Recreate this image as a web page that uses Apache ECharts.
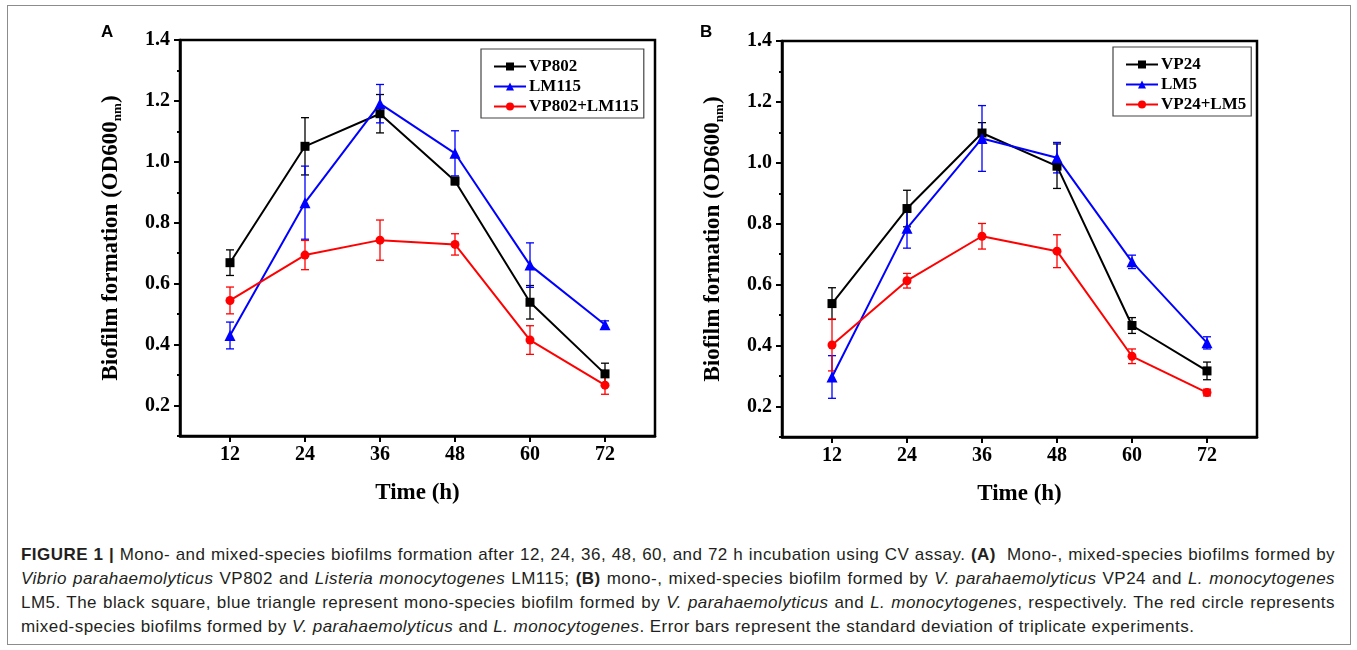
<!DOCTYPE html>
<html>
<head>
<meta charset="utf-8">
<script src="https://cdn.jsdelivr.net/npm/echarts@6/dist/echarts.min.js"></script>
<style>
  body { margin: 0; background: #fff; }
  #frame { position: absolute; left: 7px; top: 5px; width: 1344px; height: 640px; border: 1px solid #8c8c8c; box-sizing: border-box; }
  #chart { position: absolute; left: 0; top: 0; width: 1357px; height: 520px; }
  .cap { position: absolute; left: 21px; width: 1314px; height: 24px; line-height: 24px; font-family: "Liberation Sans", Arial, sans-serif; font-size: 17px; letter-spacing: 0.45px; color: #231f20; white-space: nowrap; text-align: justify; text-align-last: justify; }
  .cap.last { text-align-last: left; }
</style>
</head>
<body>
<div id="frame"></div>
<div id="chart"></div>
<div class="cap" style="top:543px"><b>FIGURE 1 |</b> Mono- and mixed-species biofilms formation after 12, 24, 36, 48, 60, and 72 h incubation using CV assay. <b>(A)</b>&nbsp; Mono-, mixed-species biofilms formed by</div>
<div class="cap" style="top:567px"><i>Vibrio parahaemolyticus</i> VP802 and <i>Listeria monocytogenes</i> LM115; <b>(B)</b> mono-, mixed-species biofilm formed by <i>V. parahaemolyticus</i> VP24 and <i>L. monocytogenes</i></div>
<div class="cap" style="top:591px">LM5. The black square, blue triangle represent mono-species biofilm formed by <i>V. parahaemolyticus</i> and <i>L. monocytogenes</i>, respectively. The red circle represents</div>
<div class="cap last" style="top:615px">mixed-species biofilms formed by <i>V. parahaemolyticus</i> and <i>L. monocytogenes</i>. Error bars represent the standard deviation of triplicate experiments.</div>
<script>
// sampling times (h)
var times = [12, 24, 36, 48, 60, 72];
var timeTicks = [12, 24, 36, 48, 60, 72];
var majorY = [0.2, 0.4, 0.6, 0.8, 1.0, 1.2, 1.4];
var minorY = [0.1, 0.3, 0.5, 0.7, 0.9, 1.1, 1.3];

// panel A
var vp802 = [0.669, 1.051, 1.158, 0.937, 0.539, 0.304];
var vp802Err = [0.042, 0.094, 0.063, 0.012, 0.055, 0.035];
var lm115 = [0.430, 0.866, 1.191, 1.028, 0.661, 0.465];
var lm115Err = [0.044, 0.120, 0.063, 0.074, 0.073, 0.013];
var mixA = [0.545, 0.694, 0.743, 0.729, 0.415, 0.267];
var mixAErr = [0.044, 0.048, 0.066, 0.035, 0.047, 0.030];

// panel B
var vp24 = [0.538, 0.850, 1.098, 0.989, 0.466, 0.317];
var vp24Err = [0.052, 0.060, 0.034, 0.073, 0.026, 0.029];
var lm5 = [0.297, 0.785, 1.080, 1.017, 0.675, 0.409];
var lm5Err = [0.070, 0.065, 0.108, 0.050, 0.022, 0.020];
var mixB = [0.402, 0.613, 0.759, 0.710, 0.365, 0.246];
var mixBErr = [0.085, 0.024, 0.042, 0.054, 0.024, 0.011];

var serif = '"Liberation Serif", "Times New Roman", serif';

function pairs(vals) {
  return times.map(function (t, i) { return [t, vals[i]]; });
}
function errData(vals, errs) {
  return times.map(function (t, i) { return [t, vals[i] - errs[i], vals[i] + errs[i]]; });
}

function errorBar(color) {
  return function (params, api) {
    var lo = api.coord([api.value(0), api.value(1)]);
    var hi = api.coord([api.value(0), api.value(2)]);
    var w = 4;
    var st = { stroke: color, lineWidth: 1.3 };
    return {
      type: 'group',
      children: [
        { type: 'line', shape: { x1: lo[0], y1: lo[1], x2: hi[0], y2: hi[1] }, style: st },
        { type: 'line', shape: { x1: lo[0] - w, y1: lo[1], x2: lo[0] + w, y2: lo[1] }, style: st },
        { type: 'line', shape: { x1: hi[0] - w, y1: hi[1], x2: hi[0] + w, y2: hi[1] }, style: st }
      ]
    };
  };
}

function lineSeries(name, vals, color, symbol, size, idx) {
  return {
    name: name, type: 'line', xAxisIndex: idx, yAxisIndex: idx * 2,
    data: pairs(vals), symbol: symbol, symbolSize: size,
    lineStyle: { color: color, width: 2 },
    itemStyle: { color: color },
    z: 3
  };
}
function errSeries(vals, errs, color, idx) {
  return {
    type: 'custom', xAxisIndex: idx, yAxisIndex: idx * 2,
    renderItem: errorBar(color), data: errData(vals, errs),
    encode: { x: 0, y: [1, 2] }, z: 2, silent: true
  };
}

function xAxisOpt(idx) {
  return {
    gridIndex: idx, type: 'value', min: 4, max: 80,
    axisLine: { lineStyle: { color: '#000', width: 2.5 } },
    axisTick: { customValues: timeTicks, length: 6, lineStyle: { color: '#000', width: 2 } },
    axisLabel: { customValues: timeTicks, margin: 9, color: '#000', fontSize: 20, fontWeight: 'bold', fontFamily: serif },
    splitLine: { show: false },
    name: 'Time (h)', nameLocation: 'middle', nameGap: 46,
    nameTextStyle: { color: '#000', fontSize: 23, fontWeight: 'bold', fontFamily: serif }
  };
}
function yAxisOpts(idx) {
  return [{
    gridIndex: idx, type: 'value', min: 0.1, max: 1.4,
    axisLine: { show: true, lineStyle: { color: '#000', width: 2.5 } },
    axisTick: { show: true, customValues: majorY, length: 6, lineStyle: { color: '#000', width: 2 } },
    axisLabel: {
      customValues: majorY, margin: 10, color: '#000', fontSize: 20, fontWeight: 'bold', fontFamily: serif,
      formatter: function (v) { return v.toFixed(1); }
    },
    splitLine: { show: false },
    name: '{a|Biofilm formation (OD600}{s|nm}{a|)}',
    nameLocation: 'middle', nameRotate: 90, nameGap: 56,
    nameTextStyle: {
      rich: {
        a: { color: '#000', fontSize: 23, fontWeight: 'bold', fontFamily: serif },
        s: { color: '#000', fontSize: 13, fontWeight: 'bold', fontFamily: serif, padding: [12, 0, 0, 0] }
      }
    }
  }, {
    gridIndex: idx, type: 'value', min: 0.1, max: 1.4, position: 'left',
    axisLine: { show: false },
    axisTick: { show: true, customValues: minorY, length: 3, lineStyle: { color: '#000', width: 2 } },
    axisLabel: { show: false },
    splitLine: { show: false }
  }];
}

function legendOpt(names, left, top) {
  return {
    data: names, orient: 'vertical', left: left, top: top,
    padding: [9, 5, 3, 12], itemGap: 3, itemWidth: 32, itemHeight: 10,
    borderColor: '#444', borderWidth: 1.2, backgroundColor: '#fff',
    textStyle: { color: '#000', fontSize: 17, fontWeight: 'bold', fontFamily: serif, padding: [0, 0, 0, -2] }
  };
}

var chart = echarts.init(document.getElementById('chart'));
chart.setOption({
  animation: false,
  grid: [
    { left: 180, top: 40, width: 475, height: 396, show: true, borderColor: '#000', borderWidth: 2.5 },
    { left: 782, top: 41, width: 475, height: 396, show: true, borderColor: '#000', borderWidth: 2.5 }
  ],
  xAxis: [xAxisOpt(0), xAxisOpt(1)],
  yAxis: yAxisOpts(0).concat(yAxisOpts(1)),
  legend: [
    legendOpt(['VP802', 'LM115', 'VP802+LM115'], 481, 49),
    legendOpt(['VP24', 'LM5', 'VP24+LM5'], 1113, 47)
  ],
  graphic: [
    { type: 'text', left: 101, top: 24, style: { text: 'A', font: 'bold 17px "Liberation Sans", Arial', fill: '#000' } },
    { type: 'text', left: 700, top: 24, style: { text: 'B', font: 'bold 17px "Liberation Sans", Arial', fill: '#000' } }
  ],
  series: [
    errSeries(vp802, vp802Err, '#000', 0),
    errSeries(lm115, lm115Err, '#0000ff', 0),
    errSeries(mixA, mixAErr, '#ff0000', 0),
    lineSeries('VP802', vp802, '#000', 'rect', 9, 0),
    lineSeries('LM115', lm115, '#0000ff', 'triangle', 11, 0),
    lineSeries('VP802+LM115', mixA, '#ff0000', 'circle', 9, 0),
    errSeries(vp24, vp24Err, '#000', 1),
    errSeries(lm5, lm5Err, '#0000ff', 1),
    errSeries(mixB, mixBErr, '#ff0000', 1),
    lineSeries('VP24', vp24, '#000', 'rect', 9, 1),
    lineSeries('LM5', lm5, '#0000ff', 'triangle', 11, 1),
    lineSeries('VP24+LM5', mixB, '#ff0000', 'circle', 9, 1)
  ]
});
</script>
</body>
</html>
